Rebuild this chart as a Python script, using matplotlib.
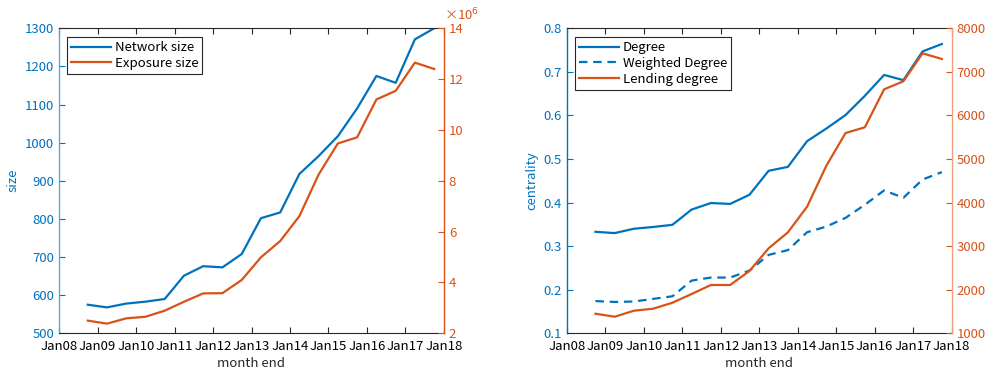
import matplotlib
matplotlib.use("Agg")
import matplotlib.pyplot as plt
import pandas as pd

plt.rcParams['font.family'] = ['Noto Sans CJK JP', 'DejaVu Sans']
plt.rcParams['font.size'] = 9.5

# Semiannual month-end observations
dates = pd.to_datetime([
    "2008-09-30", "2009-03-31", "2009-09-30", "2010-03-31", "2010-09-30",
    "2011-03-31", "2011-09-30", "2012-03-31", "2012-09-30", "2013-03-31",
    "2013-09-30", "2014-03-31", "2014-09-30", "2015-03-31", "2015-09-30",
    "2016-03-31", "2016-09-30", "2017-03-31", "2017-09-30",
])

network_size = [575, 568, 578, 583, 590, 651, 676, 673, 708, 802,
                817, 918, 965, 1017, 1090, 1175, 1157, 1271, 1300]
exposure_size_millions = [2.50, 2.38, 2.59, 2.65, 2.89, 3.24, 3.57, 3.58, 4.10, 4.99,
                          5.63, 6.61, 8.25, 9.47, 9.71, 11.20, 11.54, 12.65, 12.40]

degree = [0.333, 0.330, 0.340, 0.344, 0.349, 0.384, 0.399, 0.397, 0.418, 0.473,
          0.482, 0.541, 0.570, 0.601, 0.645, 0.693, 0.681, 0.747, 0.764]
weighted_degree = [0.174, 0.172, 0.173, 0.179, 0.185, 0.221, 0.228, 0.228, 0.244, 0.280,
                   0.291, 0.332, 0.345, 0.365, 0.395, 0.428, 0.411, 0.453, 0.470]
lending_degree = [1450, 1381, 1519, 1565, 1702, 1902, 2109, 2109, 2430, 2951,
                  3318, 3906, 4847, 5597, 5728, 6600, 6784, 7426, 7296]

year_ticks = pd.to_datetime([f"{y}-01-01" for y in range(2008, 2019)])
year_labels = [f"Jan{y % 100:02d}" for y in range(2008, 2019)]

BLUE = "#0072BD"
ORANGE = "#D95319"
BLUE_LIGHT = "#5AA6DA"
ORANGE_LIGHT = "#EE9F7C"
AX_GRAY = "#262626"
LW = 1.6

fig = plt.figure(figsize=(9.87, 3.73), dpi=100)
ax_l = fig.add_axes([0.0598, 0.1064, 0.390, 0.8177])
ax_r = fig.add_axes([0.5742, 0.1064, 0.390, 0.8177])


def style_pair(ax, ax2, left_spine, right_spine):
    ax.set_xlim(year_ticks[0], year_ticks[-1])
    ax.set_xticks(year_ticks)
    ax.set_xticklabels(year_labels)
    ax.xaxis.set_minor_locator(plt.NullLocator())
    ax.tick_params(axis='x', direction='in', top=True, length=4, width=0.8,
                   colors=AX_GRAY, labelcolor='black', pad=5)
    ax.tick_params(axis='y', direction='in', length=4, width=0.8,
                   colors=BLUE, right=False)
    ax2.tick_params(axis='y', direction='in', length=4, width=0.8,
                    colors=ORANGE, left=False)
    for sp in ('top', 'bottom'):
        ax.spines[sp].set_color(AX_GRAY)
        ax.spines[sp].set_linewidth(0.8)
        ax2.spines[sp].set_visible(False)
    ax.spines['left'].set_color(left_spine)
    ax.spines['left'].set_linewidth(1.0)
    ax.spines['right'].set_visible(False)
    ax2.spines['left'].set_visible(False)
    ax2.spines['right'].set_color(right_spine)
    ax2.spines['right'].set_linewidth(1.0)
    ax.set_xlabel("month end", color=AX_GRAY, labelpad=3)


def add_legend(ax, handles):
    leg = ax.legend(handles=handles, loc='upper left', bbox_to_anchor=(0.022, 0.97),
                    frameon=True, fancybox=False, edgecolor=AX_GRAY, framealpha=1,
                    handlelength=3.0, handletextpad=0.3, borderpad=0.3,
                    labelspacing=0.2, borderaxespad=0)
    leg.get_frame().set_linewidth(0.8)
    return leg


# Left panel: network size and exposure size
ax_l2 = ax_l.twinx()
l1, = ax_l.plot(dates, network_size, color=BLUE, lw=LW, label="Network size")
l2, = ax_l2.plot(dates, exposure_size_millions, color=ORANGE, lw=LW, label="Exposure size")
ax_l.set_ylim(500, 1300)
ax_l.set_yticks(range(500, 1301, 100))
ax_l2.set_ylim(2, 14)
ax_l2.set_yticks(range(2, 15, 2))
ax_l.set_ylabel("size", color=BLUE, labelpad=4)
style_pair(ax_l, ax_l2, BLUE_LIGHT, ORANGE)
ax_l2.text(1.0, 1.015, "×10$^6$", transform=ax_l2.transAxes, color=ORANGE,
           ha='left', va='bottom', fontsize=9.5)
add_legend(ax_l, [l1, l2])

# Right panel: centrality measures and lending degree
ax_r2 = ax_r.twinx()
r1, = ax_r.plot(dates, degree, color=BLUE, lw=LW, label="Degree")
r2, = ax_r.plot(dates, weighted_degree, color=BLUE, lw=LW, ls=(0, (3.8, 2.6)),
                label="Weighted Degree")
r3, = ax_r2.plot(dates, lending_degree, color=ORANGE, lw=LW, label="Lending degree")
ax_r.set_ylim(0.1, 0.8)
ax_r.set_yticks([0.1, 0.2, 0.3, 0.4, 0.5, 0.6, 0.7, 0.8])
ax_r2.set_ylim(1000, 8000)
ax_r2.set_yticks(range(1000, 8001, 1000))
ax_r.set_ylabel("centrality", color=BLUE, labelpad=4)
style_pair(ax_r, ax_r2, BLUE, ORANGE_LIGHT)
add_legend(ax_r, [r1, r2, r3])

fig.savefig("out.png", dpi=100)
